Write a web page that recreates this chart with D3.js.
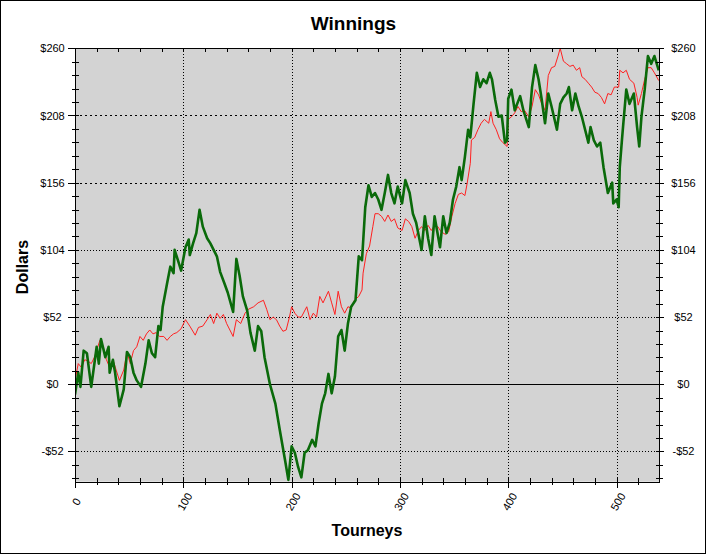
<!DOCTYPE html>
<html>
<head>
<meta charset="utf-8">
<script src="https://cdn.jsdelivr.net/npm/d3@7"></script>
<style>
  html, body { margin: 0; padding: 0; background: #ffffff; }
  svg { display: block; }
  text { font-family: "Liberation Sans", Arial, sans-serif; }
</style>
</head>
<body>
<svg id="chart" width="707" height="555"></svg>
<script>
// ---- data ----
const title = "Winnings";
const xTitle = "Tourneys";
const yTitle = "Dollars";
const xTickValues = [0, 100, 200, 300, 400, 500];
const yTickValues = [-52, 0, 52, 104, 156, 208, 260];

const redT = [0,3,6,9,12,15,18,23,26,29,32,35,38,41,45,48,51,54,57,60,63,66,69,72,75,78,82,85,88,91,94,98,102,106,111,114,118,122,125,128,131,134,137,140,143,146,149,153,157,160,165,169,174,177,180,183,186,189,192,195,198,200,203,206,209,214,217,220,223,226,229,234,237,240,243,246,249,252,255,258,262,265,266,269,272,275,277,280,283,286,289,292,295,298,302,305,308,311,314,317,320,323,326,329,332,335,338,342,345,348,351,354,357,360,362,365,366,369,372,375,378,382,384,386,389,392,395,399,400,403,406,409,412,415,419,422,425,428,431,434,437,440,443,446,448,451,454,457,460,463,466,468,471,474,477,480,483,486,489,492,495,498,502,503,506,509,512,516,519,520,523,526,529,532,535,539];
const redV = [3,16,13,19,18,16,21,34,29,19,13,19,11,3,11,25,16,26,29,37,34,39,42,39,40,37,37,34,37,39,40,43,50,45,38,44,45,50,54,47,55,51,54,47,42,37,50,47,55,58,60,63,65,58,50,52,50,45,41,42,52,60,55,52,52,60,50,55,52,68,63,72,63,54,72,60,55,60,59,65,68,73,86,101,107,122,132,132,130,126,131,126,128,121,119,128,126,122,113,119,122,119,123,119,123,122,118,116,118,130,140,147,148,146,155,171,189,191,197,202,205,202,211,202,197,190,187,184,205,207,210,215,211,212,207,215,228,224,217,212,239,245,246,254,260,250,248,246,247,243,245,238,236,233,230,226,225,222,217,225,224,230,230,243,241,243,236,233,222,216,225,236,245,245,241,235];

const greenT = [0,3,5,8,11,15,20,22,24,28,31,32,35,37,41,45,48,51,54,57,61,65,68,71,74,77,79,81,85,88,91,92,95,98,102,105,106,109,112,115,118,122,125,128,131,134,138,141,146,149,152,155,159,162,166,169,172,175,180,185,189,194,197,200,203,206,209,212,215,219,222,225,228,231,234,237,240,243,246,249,252,255,259,262,265,268,271,274,277,280,283,286,289,292,295,298,302,305,309,312,315,320,323,326,329,332,337,340,343,346,348,349,352,355,357,360,363,365,368,371,374,377,380,383,385,388,391,394,397,399,400,403,406,411,414,419,422,425,428,431,434,437,440,445,448,451,454,456,459,462,465,468,471,474,476,479,482,485,488,491,492,496,497,500,502,503,505,506,509,512,516,519,521,523,526,529,532,535,539];
const greenV = [-8,9,-2,26,24,-2,29,16,35,21,29,9,19,9,-17,-4,25,21,9,3,-2,16,34,24,21,45,42,60,78,91,86,104,96,88,106,112,100,109,117,135,122,113,109,104,99,87,78,71,56,97,84,68,57,40,26,45,41,21,0,-15,-35,-59,-74,-48,-53,-64,-72,-53,-51,-43,-48,-30,-15,-7,8,-7,6,37,42,26,47,60,65,99,96,137,154,145,148,143,135,148,162,148,140,153,140,158,148,132,125,104,130,113,100,130,106,130,117,125,137,143,153,168,158,176,197,191,217,241,230,236,233,241,236,220,207,208,187,189,221,228,212,223,212,199,230,247,236,220,202,225,215,197,217,222,225,230,212,225,215,207,197,187,199,189,184,187,168,153,148,156,140,143,137,168,189,199,228,217,225,199,184,207,228,254,248,254,243];

// ---- layout ----
const svg = d3.select("#chart");
const W = 707, H = 555;
const L = 75, R = 659.3, T = 48.3, B = 481.7;

const x = d3.scaleLinear().domain([0, 539.5]).range([L, R]);
const y = d3.scaleLinear().domain([-75.4, 260]).range([B, T]);

const fmt = v => (v < 0 ? "-$" + Math.abs(v) : "$" + v);
const xMinor = d3.range(0, 540, 20);
const yMinor = d3.range(-7, 26).map(k => +(k * 10.4).toFixed(1)).filter(v => v >= -75.4 && v <= 260);

// outer frame
svg.append("rect").attr("x", 0.5).attr("y", 0.5).attr("width", 705).attr("height", 553)
  .attr("fill", "#ffffff").attr("stroke", "#000").attr("stroke-width", 1);

// plot background
svg.append("rect").attr("x", L).attr("y", T).attr("width", R - L).attr("height", B - T)
  .attr("fill", "#d3d3d3");

// gridlines
const grid = svg.append("g").attr("stroke", "#000").attr("stroke-width", 1).attr("shape-rendering", "crispEdges");
grid.selectAll(".gy").data(yTickValues.filter(v => v !== 0 && v !== 260)).join("line")
  .attr("x1", L).attr("x2", R)
  .attr("y1", d => Math.round(y(d)) + 0.5).attr("y2", d => Math.round(y(d)) + 0.5)
  .attr("stroke-dasharray", d => (d >= 156 ? "2,3" : "1,2"));
grid.selectAll(".gx").data(xTickValues.filter(v => v !== 0)).join("line")
  .attr("y1", T).attr("y2", B)
  .attr("x1", d => Math.round(x(d)) + 0.5).attr("x2", d => Math.round(x(d)) + 0.5)
  .attr("stroke-dasharray", "1,2");
// zero line
grid.append("line").attr("x1", L).attr("x2", R)
  .attr("y1", Math.round(y(0)) + 0.5).attr("y2", Math.round(y(0)) + 0.5);

// series
const lineGen = (ts, vs) => d3.line().x((d, i) => x(ts[i])).y((d, i) => y(vs[i]))(vs);
const clip = svg.append("clipPath").attr("id", "clip").append("rect")
  .attr("x", L).attr("y", T - 2).attr("width", R - L).attr("height", B - T + 2);
svg.append("path").attr("d", lineGen(redT, redV)).attr("fill", "none")
  .attr("stroke", "#ff2020").attr("stroke-width", 1).attr("stroke-linejoin", "round")
  .attr("clip-path", "url(#clip)");
svg.append("path").attr("d", lineGen(greenT, greenV)).attr("fill", "none")
  .attr("stroke", "#0a6a0a").attr("stroke-width", 2.6).attr("stroke-linejoin", "round")
  .attr("clip-path", "url(#clip)");

// axes
function styleAxis(g) {
  g.selectAll("path.domain").attr("stroke", "#000").attr("shape-rendering", "crispEdges");
  g.selectAll("line").attr("stroke", "#000").attr("shape-rendering", "crispEdges");
  g.selectAll("text").attr("fill", "#000").style("font-size", "11px")
    .style("font-family", "'Liberation Sans', Arial, sans-serif");
}

// left axis
const gl = svg.append("g").attr("transform", `translate(${L},0)`);
gl.call(d3.axisLeft(y).tickValues(yMinor).tickSize(3.5).tickSizeOuter(0).tickFormat(""));
gl.append("g").call(d3.axisRight(y).tickValues(yMinor).tickSize(3.5).tickSizeOuter(0).tickFormat(""));
const glm = gl.append("g").call(d3.axisLeft(y).tickValues(yTickValues).tickSize(7).tickSizeOuter(0).tickFormat(fmt));
glm.selectAll("text").attr("x", -22.5).attr("text-anchor", "middle");
styleAxis(gl);

// right axis
const gr = svg.append("g").attr("transform", `translate(${R},0)`);
gr.call(d3.axisRight(y).tickValues(yMinor).tickSize(3.5).tickSizeOuter(0).tickFormat(""));
gr.append("g").call(d3.axisLeft(y).tickValues(yMinor).tickSize(3.5).tickSizeOuter(0).tickFormat(""));
const grm = gr.append("g").call(d3.axisRight(y).tickValues(yTickValues).tickSize(5).tickSizeOuter(0).tickFormat(fmt));
grm.selectAll("text").attr("x", 24.2).attr("text-anchor", "middle");
styleAxis(gr);

// bottom axis
const gb = svg.append("g").attr("transform", `translate(0,${B})`);
gb.call(d3.axisBottom(x).tickValues(xMinor).tickSize(3).tickSizeOuter(0).tickFormat(""));
gb.append("g").call(d3.axisTop(x).tickValues(xMinor).tickSize(3.5).tickSizeOuter(0).tickFormat(""));
const gbm = gb.append("g").call(d3.axisBottom(x).tickValues(xTickValues).tickSize(6.5).tickSizeOuter(0).tickFormat(d3.format("d")));
gbm.selectAll("text").attr("y", 0).attr("dy", "0.35em").attr("text-anchor", "middle")
  .attr("transform", "translate(1,20) rotate(-60)");
styleAxis(gb);

// top axis
const gt = svg.append("g").attr("transform", `translate(0,${T})`);
gt.call(d3.axisBottom(x).tickValues(xMinor).tickSize(4).tickSizeOuter(0).tickFormat(""));
styleAxis(gt);

// titles
svg.append("text").attr("x", 353.5).attr("y", 30).attr("text-anchor", "middle")
  .style("font-size", "19px").style("font-weight", "bold").text(title);
svg.append("text").attr("x", 367).attr("y", 536).attr("text-anchor", "middle")
  .style("font-size", "16px").style("font-weight", "bold").text(xTitle);
svg.append("text").attr("transform", "translate(28,267) rotate(-90)").attr("text-anchor", "middle")
  .style("font-size", "16px").style("font-weight", "bold").text(yTitle);
</script>
</body>
</html>
